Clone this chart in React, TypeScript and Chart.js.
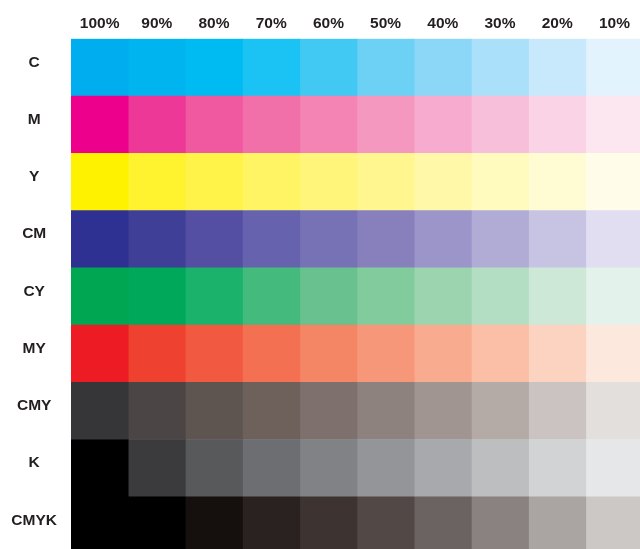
import React, { useEffect, useRef } from "react";
import { Chart, registerables } from "chart.js";

Chart.register(...registerables);

// Rows (ink combinations) and columns (tint percentages)
const inkRows = ["C", "M", "Y", "CM", "CY", "MY", "CMY", "K", "CMYK"];
const tintLabels = ["100%", "90%", "80%", "70%", "60%", "50%", "40%", "30%", "20%", "10%"];
// each tint patch occupies one unit along the x scale
const patchWidth = [1, 1, 1, 1, 1, 1, 1, 1, 1, 1];

// Swatch colours per row (100% -> 10%)
const cyanTints = ["#00AEEF", "#00B4F0", "#00BBF2", "#1AC3F3", "#42C9F3", "#6DD0F5", "#8CD7F7", "#ABE0FA", "#C7E9FB", "#E2F3FD"];
const magentaTints = ["#EC008C", "#EE3897", "#F058A0", "#F270AA", "#F384B4", "#F598C0", "#F7ABCE", "#F8BFDA", "#FAD3E6", "#FCE7F1"];
const yellowTints = ["#FFF200", "#FFF22F", "#FFF34A", "#FFF463", "#FFF57A", "#FFF690", "#FFF8A8", "#FFFABE", "#FFFCD4", "#FFFDEA"];
const cmTints = ["#2E3192", "#3F3F97", "#554FA3", "#6662AD", "#7772B5", "#8780BD", "#9B95C9", "#B1ACD6", "#C7C4E3", "#E0DEF0"];
const cyTints = ["#00A651", "#00A85A", "#1BB26B", "#44BA7C", "#68C18E", "#82CB9D", "#9BD4AF", "#B3DEC3", "#CDE8D7", "#E3F2EA"];
const myTints = ["#ED1C24", "#EF412F", "#F15A40", "#F37152", "#F48565", "#F69779", "#F8AB8E", "#FABFA6", "#FCD3C1", "#FDE8DE"];
const cmyTints = ["#363538", "#4B4546", "#5E5450", "#6E605B", "#7E716D", "#8E827E", "#A09591", "#B4ABA7", "#CBC3C1", "#E3DFDC"];
const kTints = ["#000000", "#3B3B3D", "#58595B", "#6D6E71", "#808285", "#939598", "#A7A9AC", "#BCBEC0", "#D1D3D4", "#E6E7E8"];
const cmykTints = ["#000000", "#000000", "#150F0D", "#2A2220", "#3D3432", "#524946", "#6B6361", "#8A8280", "#AAA4A2", "#CCC8C6"];

const rowPalettes = [cyanTints, magentaTints, yellowTints, cmTints, cyTints, myTints, cmyTints, kTints, cmykTints];

const FONT = { family: "'Liberation Sans', Arial, sans-serif", size: 15.5, weight: "bold" as const };
const TEXT = "#231F20";

export default function App() {
  const ref = useRef<HTMLCanvasElement | null>(null);

  useEffect(() => {
    if (!ref.current) return;
    const datasets = tintLabels.map((label, col) => ({
      label,
      data: inkRows.map(() => patchWidth[col]),
      backgroundColor: rowPalettes.map((p) => p[col]),
      borderWidth: 0,
      borderSkipped: false as const,
      barPercentage: 1,
      categoryPercentage: 1,
    }));

    const chart = new Chart(ref.current, {
      type: "bar",
      data: { labels: inkRows, datasets },
      options: {
        indexAxis: "y",
        animation: false,
        responsive: true,
        maintainAspectRatio: false,
        layout: { padding: 0 },
        plugins: { legend: { display: false }, tooltip: { enabled: false } },
        scales: {
          x: {
            type: "linear",
            position: "top",
            stacked: true,
            min: 0,
            max: patchWidth.reduce((a, b) => a + b, 0),
            grid: { display: false, drawTicks: false },
            border: { display: false },
            afterBuildTicks: (scale: any) => {
              scale.ticks = tintLabels.map((_, i) => ({ value: i + 0.5 }));
            },
            afterFit: (scale: any) => {
              scale.height = 38.7;
              scale.paddingLeft = 0;
              scale.paddingRight = 0;
            },
            ticks: {
              autoSkip: false,
              maxRotation: 0,
              padding: 6,
              color: TEXT,
              font: FONT,
              callback: (_v: any, i: number) => tintLabels[i],
            },
          },
          y: {
            type: "category",
            stacked: true,
            grid: { display: false, drawTicks: false },
            border: { display: false },
            afterFit: (scale: any) => {
              scale.width = 71;
              scale.paddingTop = 0;
              scale.paddingBottom = 0;
            },
            ticks: {
              crossAlign: "center",
              padding: 14,
              labelOffset: -5,
              color: TEXT,
              font: FONT,
            },
          },
        },
      },
    });
    return () => chart.destroy();
  }, []);

  return (
    <div style={{ position: "fixed", left: 0, top: 0, width: 640, height: 549, overflow: "hidden", background: "#fff" }}>
      <div style={{ position: "relative", width: 643, height: 554 }}>
        <canvas ref={ref} />
      </div>
    </div>
  );
}
